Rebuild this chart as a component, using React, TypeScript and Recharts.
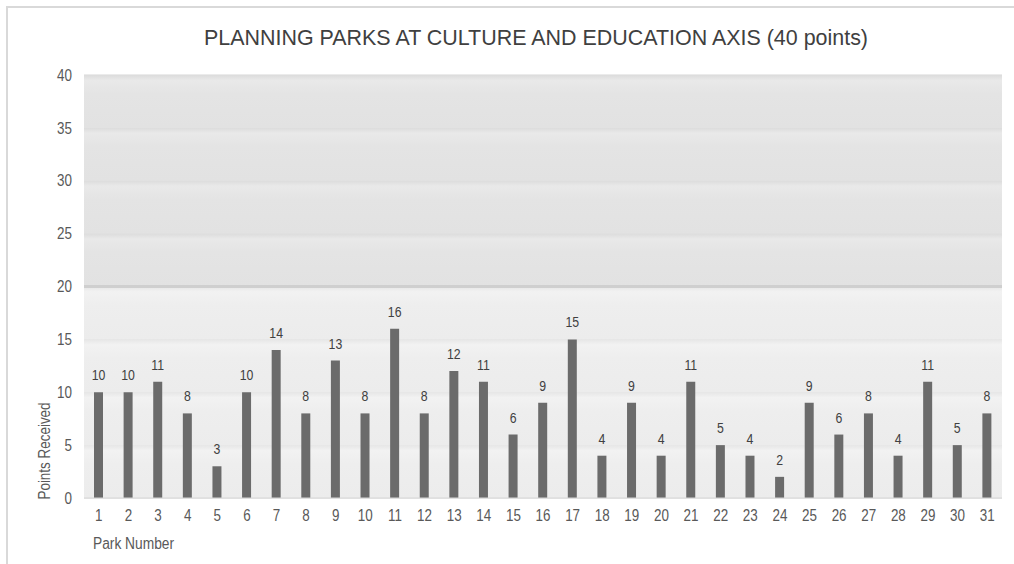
import React from "react";
import {
  BarChart,
  Bar,
  XAxis,
  YAxis,
  CartesianGrid,
  LabelList,
  ReferenceArea,
  ReferenceLine,
} from "recharts";

const parks = [
  "1", "2", "3", "4", "5", "6", "7", "8", "9", "10", "11", "12", "13", "14", "15", "16",
  "17", "18", "19", "20", "21", "22", "23", "24", "25", "26", "27", "28", "29", "30", "31",
];
const points = [
  10, 10, 11, 8, 3, 10, 14, 8, 13, 8, 16, 8, 12, 11, 6, 9,
  15, 4, 9, 4, 11, 5, 4, 2, 9, 6, 8, 4, 11, 5, 8,
];
const yTicks = [0, 5, 10, 15, 20, 25, 30, 35, 40];
const maxPoints = 40;
const passMark = 20;

const FONT = "'Liberation Sans', Arial, sans-serif";
const SQUEEZE = 0.84; // the original text is narrow

const XTick = (props: any) => {
  const { x, y, payload } = props;
  return (
    <text
      transform={`translate(${x},${y}) scale(${SQUEEZE},1)`}
      textAnchor="middle"
      dy="0.71em"
      fontSize={16}
      fontFamily={FONT}
      fill="#595959"
    >
      {payload.value}
    </text>
  );
};

const YTick = (props: any) => {
  const { x, y, payload } = props;
  return (
    <text
      transform={`translate(${x},${y}) scale(${SQUEEZE},1)`}
      textAnchor="end"
      dy="0.355em"
      fontSize={16}
      fontFamily={FONT}
      fill="#595959"
    >
      {payload.value}
    </text>
  );
};

const BarLabel = (props: any) => {
  const { x, y, width, value } = props;
  return (
    <text
      transform={`translate(${x + width / 2},${y - 12}) scale(0.82,1)`}
      textAnchor="middle"
      fontSize={15}
      fontFamily={FONT}
      fill="#404040"
    >
      {value}
    </text>
  );
};

export default function App() {
  const data = parks.map((p, i) => ({ park: p, points: points[i] }));

  // 5-point background bands, darker above the pass mark
  const bands = yTicks.slice(0, -1).map((lo, i) => ({ lo, hi: yTicks[i + 1] }));

  return (
    <div
      style={{
        position: "fixed",
        left: 0,
        top: 0,
        width: 1014,
        height: 564,
        background: "#fff",
        fontFamily: FONT,
        overflow: "hidden",
      }}
    >
      {/* frame */}
      <div
        style={{
          position: "absolute",
          left: 6,
          top: 6,
          width: 1014,
          height: 564,
          borderTop: "2px solid #d9d9d9",
          borderLeft: "2px solid #d9d9d9",
        }}
      />
      <svg width={1014} height={70} style={{ position: "absolute", left: 0, top: 0 }}>
        <text
          x={536}
          y={45}
          textAnchor="middle"
          fontSize={22}
          fontFamily={FONT}
          fill="#404040"
          textLength={664}
          lengthAdjust="spacingAndGlyphs"
        >
          PLANNING PARKS AT CULTURE AND EDUCATION AXIS (40 points)
        </text>
      </svg>
      <div
        style={{
          position: "absolute",
          left: 45,
          top: 451,
          transform: `translate(-50%, -50%) rotate(-90deg) scale(${SQUEEZE}, 1)`,
          whiteSpace: "nowrap",
          fontSize: 16,
          lineHeight: "16px",
          color: "#595959",
        }}
      >
        Points Received
      </div>
      <div
        style={{
          position: "absolute",
          left: 93,
          top: 535,
          transform: "scale(0.86, 1)",
          transformOrigin: "left top",
          whiteSpace: "nowrap",
          fontSize: 16,
          lineHeight: "18px",
          color: "#595959",
        }}
      >
        Park Number
      </div>

      <div style={{ position: "absolute", left: 0, top: 0 }}>
        <BarChart
          width={1014}
          height={564}
          data={data}
          margin={{ top: 75, right: 12, left: 50, bottom: 36 }}
        >
          <defs>
            <linearGradient id="bandHi" x1="0" y1="0" x2="0" y2="1">
              <stop offset="0%" stopColor="#dcdcdc" />
              <stop offset="10%" stopColor="#e9e9e9" />
              <stop offset="35%" stopColor="#e4e4e4" />
              <stop offset="100%" stopColor="#e2e2e2" />
            </linearGradient>
            <linearGradient id="bandLo" x1="0" y1="0" x2="0" y2="1">
              <stop offset="0%" stopColor="#e6e6e6" />
              <stop offset="10%" stopColor="#f2f2f2" />
              <stop offset="35%" stopColor="#eeeeee" />
              <stop offset="100%" stopColor="#ececec" />
            </linearGradient>
          </defs>
          {bands.map((b) => (
            <ReferenceArea
              key={b.lo}
              y1={b.lo}
              y2={b.hi}
              fill={b.lo >= passMark ? "url(#bandHi)" : "url(#bandLo)"}
              fillOpacity={1}
              stroke="none"
              ifOverflow="visible"
            />
          ))}
          <CartesianGrid stroke="#d6d6d6" vertical={false} />
          <ReferenceLine y={passMark} stroke="#cfcfcf" strokeWidth={3} />
          <XAxis
            dataKey="park"
            tick={<XTick />}
            axisLine={{ stroke: "#d6d6d6" }}
            tickLine={false}
            tickMargin={6}
            interval={0}
            height={30}
          />
          <YAxis
            domain={[0, maxPoints]}
            ticks={yTicks}
            width={34}
            tick={<YTick />}
            axisLine={false}
            tickLine={false}
            tickMargin={6}
          />
          <Bar dataKey="points" fill="#6b6b6b" barSize={9} isAnimationActive={false}>
            <LabelList dataKey="points" content={<BarLabel />} />
          </Bar>
        </BarChart>
      </div>
    </div>
  );
}
